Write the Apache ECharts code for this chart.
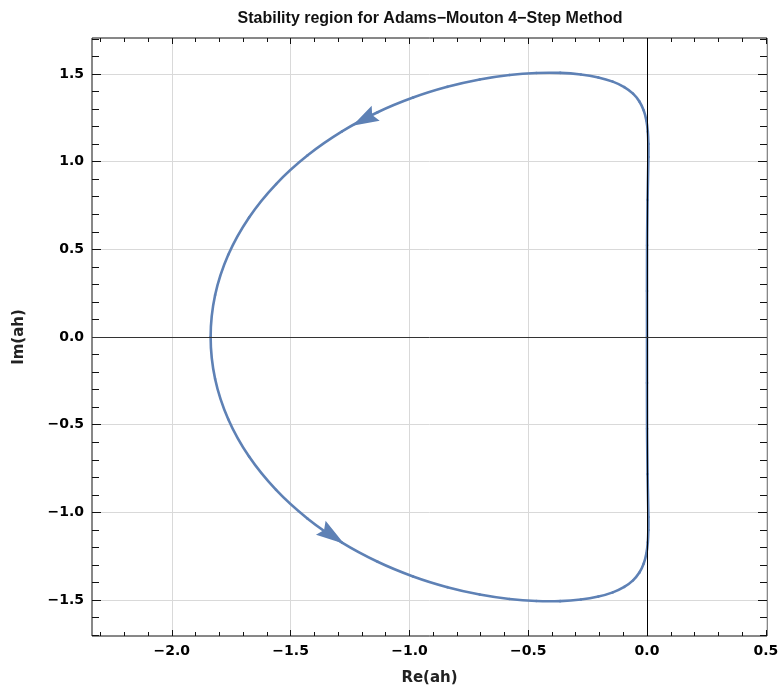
<!DOCTYPE html>
<html>
<head>
<meta charset="utf-8">
<script src="https://cdn.jsdelivr.net/npm/echarts@6/dist/echarts.min.js"></script>
<style>html,body{margin:0;padding:0;background:#fff}#chart{width:782px;height:688px}</style>
</head>
<body>
<div id="chart"></div>
<script>
// Boundary locus points (Re, Im)
const reX = [0, 0.0000, 0.0003, 0.0023, 0.0059, 0.0057, 0.0033, -0.0027, -0.0140, -0.0321, -0.0589, -0.0958, -0.1442, -0.2048, -0.2784, -0.3654, -0.4657, -0.5789, -0.7043, -0.8403, -0.9846, -1.1339, -1.2836, -1.4283, -1.5611, -1.6749, -1.7625, -1.8178, -1.8367, -1.8178, -1.7625, -1.6749, -1.5611, -1.4283, -1.2836, -1.1339, -0.9846, -0.8403, -0.7043, -0.5789, -0.4657, -0.3654, -0.2784, -0.2048, -0.1442, -0.0958, -0.0589, -0.0321, -0.0140, -0.0027, 0.0033, 0.0057, 0.0059, 0.0023, 0.0003, 0.0000, 0];
const imY = [0, 0.2618, 0.5234, 0.7820, 1.0263, 1.1010, 1.1707, 1.2344, 1.2921, 1.3432, 1.3875, 1.4251, 1.4561, 1.4802, 1.4972, 1.5061, 1.5056, 1.4937, 1.4683, 1.4265, 1.3653, 1.2815, 1.1725, 1.0363, 0.8723, 0.6820, 0.4689, 0.2393, 0, -0.2393, -0.4689, -0.6820, -0.8723, -1.0363, -1.1725, -1.2815, -1.3653, -1.4265, -1.4683, -1.4937, -1.5056, -1.5061, -1.4972, -1.4802, -1.4561, -1.4251, -1.3875, -1.3432, -1.2921, -1.2344, -1.1707, -1.1010, -1.0263, -0.7820, -0.5234, -0.2618, 0];

// Arrow heads (tip and tail on the curve)
const arrowTipX = [-1.240, -1.275];
const arrowTipY = [1.205, -1.179];
const arrowTailX = [-1.142, -1.373];
const arrowTailY = [1.276, -1.088];

// Axis ticks
const xMajor = [-2.0, -1.5, -1.0, -0.5, 0.0, 0.5];
const xMinor = [-2.3, -2.2, -2.1, -2.0, -1.9, -1.8, -1.7, -1.6, -1.5, -1.4, -1.3, -1.2, -1.1, -1.0, -0.9, -0.8, -0.7, -0.6, -0.5, -0.4, -0.3, -0.2, -0.1, 0.0, 0.1, 0.2, 0.3, 0.4, 0.5];
const yMajor = [-1.5, -1.0, -0.5, 0.0, 0.5, 1.0, 1.5];
const yMinor = [-1.7, -1.6, -1.5, -1.4, -1.3, -1.2, -1.1, -1.0, -0.9, -0.8, -0.7, -0.6, -0.5, -0.4, -0.3, -0.2, -0.1, 0.0, 0.1, 0.2, 0.3, 0.4, 0.5, 0.6, 0.7, 0.8, 0.9, 1.0, 1.1, 1.2, 1.3, 1.4, 1.5, 1.6, 1.7];

const xRange = [-2.336, 0.505];
const yRange = [-1.705, 1.705];

const curve = reX.map((x, i) => [x, imY[i]]);
const arrows = arrowTipX.map((x, i) => [x, arrowTipY[i], arrowTailX[i], arrowTailY[i]]);
const N = curve.length;

const fmt = v => (v < 0 ? '\u2212' : '') + Math.abs(v).toFixed(1);
const labelFont = { fontFamily: 'DejaVu Sans', fontWeight: 'bold', fontSize: 14, color: '#000' };
const tickColor = '#111';
const gridColor = '#d9d9d9';
const curveColor = '#5E81B5';

function xAx(pos, values, len, labels, split) {
  return {
    type: 'value', min: xRange[0], max: xRange[1], position: pos,
    axisLine: { show: false, onZero: false },
    axisTick: { show: true, inside: true, length: len, customValues: values, lineStyle: { color: tickColor, width: 1 } },
    axisLabel: labels ? Object.assign({ show: true, customValues: xMajor, formatter: fmt, margin: 8 }, labelFont) : { show: false },
    splitLine: { show: split, lineStyle: { color: gridColor, width: 1 } },
    minorTick: { show: false }
  };
}
function yAx(pos, values, len, labels, split) {
  return {
    type: 'value', min: yRange[0], max: yRange[1], position: pos,
    axisLine: { show: false, onZero: false },
    axisTick: { show: true, inside: true, length: len, customValues: values, lineStyle: { color: tickColor, width: 1 } },
    axisLabel: labels ? Object.assign({ show: true, customValues: yMajor, formatter: fmt, margin: 8 }, labelFont) : { show: false },
    splitLine: { show: split, lineStyle: { color: gridColor, width: 1 } },
    minorTick: { show: false }
  };
}

const xAxes = [
  xAx('bottom', xMajor, 6, true, true),
  xAx('bottom', xMinor, 4, false, false),
  xAx('top', xMajor, 6, false, false),
  xAx('top', xMinor, 4, false, false)
];
Object.assign(xAxes[0], {
  name: 'Re(ah)', nameLocation: 'middle', nameGap: 35,
  nameTextStyle: { fontFamily: 'DejaVu Sans', fontWeight: 'bold', fontSize: 15, color: '#222' }
});
const yAxes = [
  yAx('left', yMajor, 9, true, true),
  yAx('left', yMinor, 7, false, false),
  yAx('right', yMajor, 9, false, false),
  yAx('right', yMinor, 7, false, false)
];
Object.assign(yAxes[0], {
  name: 'Im(ah)', nameLocation: 'middle', nameGap: 65, nameRotate: 90,
  nameTextStyle: { fontFamily: 'DejaVu Sans', fontWeight: 'bold', fontSize: 15, color: '#222' }
});

// Smooth curve segment through the data points (Catmull-Rom to Bezier), coordinates via the axes
function renderCurveSeg(params, api) {
  const i = params.dataIndex;
  if (i >= N - 1) return null;
  const idx = j => ((j % (N - 1)) + (N - 1)) % (N - 1);
  const P = j => api.coord(curve[idx(j)]);
  const p0 = P(i - 1), p1 = P(i), p2 = P(i + 1), p3 = P(i + 2);
  const t = 1 / 6;
  return {
    type: 'bezierCurve',
    shape: {
      x1: p1[0], y1: p1[1], x2: p2[0], y2: p2[1],
      cpx1: p1[0] + (p2[0] - p0[0]) * t, cpy1: p1[1] + (p2[1] - p0[1]) * t,
      cpx2: p2[0] - (p3[0] - p1[0]) * t, cpy2: p2[1] - (p3[1] - p1[1]) * t
    },
    style: { stroke: curveColor, lineWidth: 2.6, fill: null, lineCap: 'round' }
  };
}

const chart = echarts.init(document.getElementById('chart'), null, { renderer: 'canvas' });
chart.setOption({
  animation: false,
  backgroundColor: '#fff',
  title: {
    text: 'Stability region for Adams\u2212Mouton 4\u2212Step Method',
    left: 430, top: 11, padding: 0, textAlign: 'center',
    textStyle: { fontFamily: 'Liberation Sans', fontWeight: 'bold', fontSize: 16, color: '#111' }
  },
  grid: { left: 92, right: 15, top: 38, bottom: 52, show: true, borderColor: '#111', borderWidth: 1, backgroundColor: 'transparent', outerBoundsMode: 'none', containLabel: false },
  xAxis: xAxes,
  yAxis: yAxes,
  series: [
    {
      type: 'custom', xAxisIndex: 0, yAxisIndex: 0, data: curve, silent: true, z: 3,
      renderItem: renderCurveSeg
    },
    {
      type: 'line', xAxisIndex: 0, yAxisIndex: 0,
      data: curve, showSymbol: false, symbol: 'none',
      lineStyle: { opacity: 0, width: 0 },
      silent: true, z: 4,
      markLine: {
        silent: true, symbol: ['none', 'none'], label: { show: false },
        data: [
          { xAxis: 0, lineStyle: { color: '#000', width: 1, type: 'solid' } },
          { yAxis: 0, lineStyle: { color: '#333', width: 1, type: 'solid' } }
        ]
      }
    },
    {
      type: 'custom', xAxisIndex: 0, yAxisIndex: 0, data: arrows, silent: true, z: 5,
      renderItem: function (params, api) {
        const p = api.coord([api.value(0), api.value(1)]);
        const q = api.coord([api.value(2), api.value(3)]);
        let dx = p[0] - q[0], dy = p[1] - q[1];
        const L = Math.hypot(dx, dy); dx /= L; dy /= L;
        const nx = -dy, ny = dx, w = 8.5, notch = 4;
        return {
          type: 'polygon',
          shape: { points: [p, [q[0] + nx * w, q[1] + ny * w], [q[0] + dx * notch, q[1] + dy * notch], [q[0] - nx * w, q[1] - ny * w]] },
          style: { fill: curveColor }
        };
      }
    }
  ]
});
</script>
</body>
</html>
